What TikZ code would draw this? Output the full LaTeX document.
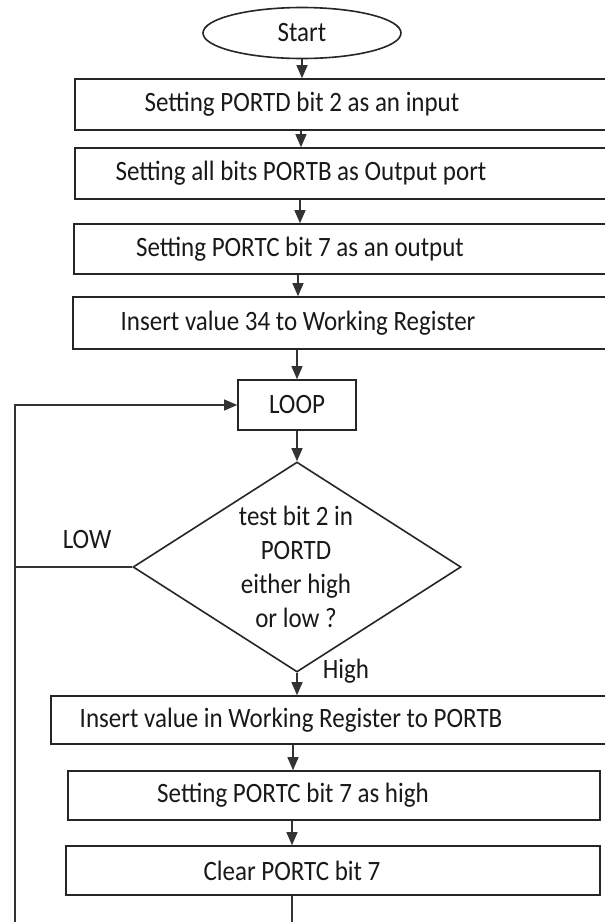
\documentclass[tikz,border=0pt]{standalone}
\usepackage{fontspec}
\usepackage{graphicx}
\setmainfont{Carlito}
\usetikzlibrary{shapes.geometric,arrows.meta}
% captions are set slightly taller than wide
\newcommand{\tallcap}[1]{\scalebox{1}[1.12]{#1}}

\begin{document}
\begin{tikzpicture}[x=1pt,y=-1pt,
  frame/.style={draw=black!85, line width=1.6pt, inner sep=0pt},
  txt/.style={inner sep=0pt, text=black!90, font=\fontsize{25}{29}\selectfont},
  link/.style={draw=black!80, line width=1.1pt},
  arrow/.style={link, -{Triangle[length=13pt,width=11pt]}}
]
\useasboundingbox (0,0) rectangle (605,922);
\clip (0,0) rectangle (605,922);
\fill[white] (0,0) rectangle (605,922);

% terminator
\node[frame, ellipse, minimum width=198pt, minimum height=51pt] (start) at (302,33) {};
\node[txt] (ts) at (302,33) {\tallcap{Start}};

% process boxes: frame rectangle plus its caption
\node[frame, rectangle, minimum width=565pt, minimum height=51pt] (r1) at (357.5,104.5) {};
\node[txt] (t1) at (302,104.5) {\tallcap{Setting PORTD bit 2 as an input}};

\node[frame, rectangle, minimum width=565pt, minimum height=51pt] (r2) at (357.5,173.5) {};
\node[txt] (t2) at (301,173.5) {\tallcap{Setting all bits PORTB as Output port}};

\node[frame, rectangle, minimum width=566pt, minimum height=50pt] (r3) at (357,249) {};
\node[txt] (t3) at (300,249) {\tallcap{Setting PORTC bit 7 as an output}};

\node[frame, rectangle, minimum width=567pt, minimum height=52pt] (r4) at (356.5,323) {};
\node[txt] (t4) at (298,323) {\tallcap{Insert value 34 to Working Register}};

\node[frame, rectangle, minimum width=118pt, minimum height=50pt] (loop) at (297,405) {};
\node[txt] (tl) at (297,405) {\tallcap{LOOP}};

% decision
\node[frame, diamond, minimum width=328pt, minimum height=210pt, aspect=1.56] (dia) at (297,567) {};
\node[txt, align=center, font=\fontsize{25}{30}\selectfont] (td) at (296,570)
  {\tallcap{\begin{tabular}{@{}c@{}}test bit 2 in\\[0.5pt]PORTD\\[0.5pt]either high\\[0.5pt]or low ?\end{tabular}}};

\node[frame, rectangle, minimum width=589pt, minimum height=48pt] (r5) at (345.5,720) {};
\node[txt] (t5) at (291,720) {\tallcap{Insert value in Working Register to PORTB}};

\node[frame, rectangle, minimum width=532pt, minimum height=49pt] (r6) at (334,795.5) {};
\node[txt] (t6) at (293,795.5) {\tallcap{Setting PORTC bit 7 as high}};

\node[frame, rectangle, minimum width=534pt, minimum height=49pt] (r7) at (333,870.5) {};
\node[txt] (t7) at (292,870.5) {\tallcap{Clear PORTC bit 7}};

% branch labels
\node[txt] (low) at (87,540) {\tallcap{LOW}};
\node[txt] (high) at (346,671) {\tallcap{High}};

% main flow
\draw[arrow] (start.south) -- (r1.north -| start.south);
\draw[arrow] (r1.south -| t2) -- (r2.north -| t2);
\draw[arrow] (r2.south -| t3) -- (r3.north -| t3);
\draw[arrow] (r3.south -| t4) -- (r4.north -| t4);
\draw[arrow] (r4.south -| loop) -- (loop.north);
\draw[arrow] (loop.south) -- (dia.north);
\draw[arrow] (dia.south) -- (r5.north -| dia.south);
\draw[arrow] (r5.south -| t6) -- (r6.north -| t6);
\draw[arrow] (r6.south -| t7) -- (r7.north -| t7);

% return path to LOOP
\coordinate (lft) at (15,567);
\coordinate (bot) at (15,960);
\draw[link] (r7.south -| t7) |- (bot) -- (lft);
\draw[arrow] (dia.west) -- (lft) |- (loop.west);
\end{tikzpicture}
\end{document}
